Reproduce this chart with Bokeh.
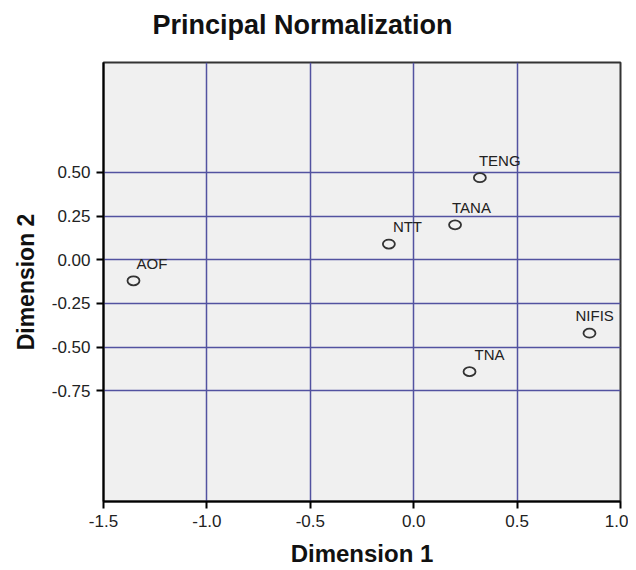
from bokeh.plotting import figure
from bokeh.models import ColumnDataSource, LabelSet, Title, FixedTicker, NumeralTickFormatter, Range1d
from bokeh.core.properties import value
from bokeh.embed import file_html
from bokeh.resources import INLINE

# data
names = ["AOF", "NTT", "TANA", "TENG", "NIFIS", "TNA"]
dim1 = [-1.355, -0.12, 0.20, 0.32, 0.85, 0.27]
dim2 = [-0.12, 0.09, 0.20, 0.47, -0.42, -0.64]
x_ticks = [-1.5, -1.0, -0.5, 0.0, 0.5, 1.0]
y_ticks = [0.50, 0.25, 0.00, -0.25, -0.50, -0.75]
label_dx = [3, 4, -3, -1, -14, 5]  # label nudges in screen px
title_text = "Principal Normalization"

FONT = "Liberation Sans"
FW, FH = 517, 439

p = figure(frame_width=FW, frame_height=FH,
           min_border_left=103, min_border_right=8,
           min_border_top=62, min_border_bottom=63,
           x_range=Range1d(-1.5, 1.0), y_range=Range1d(-1.383, 1.129),
           output_backend="svg", toolbar_location=None)

p.background_fill_color = "#F0F0F0"
p.border_fill_color = "white"
p.outline_line_color = "#333333"
p.outline_line_width = 2

# spacer between title and frame, then the title itself
p.add_layout(Title(text=" ", text_font_size="2px", standoff=19), "above")
p.add_layout(Title(text=title_text, text_font=FONT, text_font_size="27px",
                   text_font_style="bold", text_color="#111111",
                   align="left", offset=49, standoff=0), "above")

for ax in (p.xaxis[0], p.yaxis[0]):
    ax.axis_line_color = "black"
    ax.axis_line_width = 2
    ax.major_tick_line_color = "black"
    ax.major_tick_line_width = 2
    ax.major_tick_out = 7
    ax.major_tick_in = 0
    ax.minor_tick_line_color = None
    ax.major_label_text_font = FONT
    ax.major_label_text_font_size = "17px"
    ax.major_label_text_color = "#222222"
    ax.axis_label_text_font = FONT
    ax.axis_label_text_font_style = "bold"
    ax.axis_label_text_color = "#111111"

p.xaxis.ticker = FixedTicker(ticks=x_ticks)
p.yaxis.ticker = FixedTicker(ticks=y_ticks)
p.xaxis.formatter = NumeralTickFormatter(format="0.0")
p.yaxis.formatter = NumeralTickFormatter(format="0.00")
p.xaxis.axis_label = "Dimension 1"
p.yaxis.axis_label = "Dimension 2"
p.xaxis.axis_label_text_font_size = "24px"
p.yaxis.axis_label_text_font_size = "23px"
p.xaxis.axis_label_standoff = 10
p.yaxis.axis_label_standoff = 10
p.xaxis.major_label_standoff = 6
p.yaxis.major_label_standoff = 6

p.grid.grid_line_color = "#5252A0"
p.grid.grid_line_width = 1.5

src = ColumnDataSource(dict(x=dim1, y=dim2, name=names, dx=label_dx))
p.ellipse(x="x", y="y", width=12, height=9, width_units="screen", height_units="screen",
          source=src, fill_color=None, line_color="#333333", line_width=1.8)

labels = LabelSet(x="x", y="y", text="name", x_offset="dx", y_offset=12, source=src,
                  text_font=value(FONT), text_font_size=value("15px"), text_color="#222222",
                  text_baseline="alphabetic", text_align="left")
p.add_layout(labels)

open("out.html", "w").write(file_html(p, INLINE))
